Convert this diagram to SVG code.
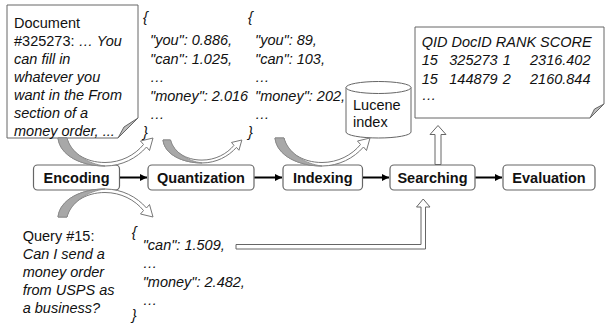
<svg xmlns="http://www.w3.org/2000/svg" xmlns:xlink="http://www.w3.org/1999/xlink" width="606" height="326" viewBox="0 0 606 326">
<style>
text{font-family:"Liberation Sans",Arial,sans-serif;font-size:14.5px;fill:#111}
.i{font-style:italic}
.b{font-weight:bold}
.node rect{fill:#fff;stroke:#666;stroke-width:1.2}
.paper{fill:#fff;stroke:#666;stroke-width:1}
.flap{fill:#bdbdbd;stroke:#666;stroke-width:1}
.conn{stroke:#000;stroke-width:2;fill:none}
.hollow{fill:#fff;stroke:#666;stroke-width:1}
.band{fill:#fff;stroke:#777;stroke-width:1}
.shade{fill:#a8a8a8;stroke:#888;stroke-width:0.8}
</style>
<defs>
<marker id="ah" markerWidth="8" markerHeight="8" refX="7" refY="4" orient="auto" markerUnits="userSpaceOnUse">
<path d="M0,0.5 L7,4 L0,7.5 Z" fill="#000"/>
</marker>
<g id="arc">
<path class="band" vector-effect="non-scaling-stroke" d="M0,0 C2,18 24,28 47,28 C64,28 79,20 88.5,9 L91.5,12.5 L95,0 L82.5,3 L85.5,6.5 C77,17 63,24.5 47,24.5 C27,24.5 12,14 9,0 Z"/>
<path class="shade" vector-effect="non-scaling-stroke" d="M0,0 C2,18 24,28 47,28 C30,26 13,15 9,0 Z"/>
</g>
</defs>

<g id="document">
<path class="paper" d="M7,5 H138 V118 L118,138 H7 Z"/>
<polygon class="flap" points="138,118 118,138 124,127"/>
<text x="14" y="28">Document</text>
<text x="14" y="46">#325273: <tspan class="i">… You</tspan></text>
<text x="14" y="64" class="i">can fill in</text>
<text x="14" y="82" class="i">whatever you</text>
<text x="14" y="100" class="i">want in the From</text>
<text x="14" y="118" class="i">section of a</text>
<text x="14" y="136" class="i">money order, ...</text>
</g>

<g id="json-encoded">
<text x="143" y="22" class="i">{</text>
<text x="150" y="45" class="i">"you": 0.886,</text>
<text x="150" y="63.5" class="i">"can": 1.025,</text>
<text x="150" y="82" class="i">…</text>
<text x="150" y="100.5" class="i">"money": 2.016</text>
<text x="150" y="119" class="i">…</text>
<text x="143" y="136.5" class="i">}</text>
</g>

<g id="json-quantized">
<text x="248" y="22" class="i">{</text>
<text x="255" y="45" class="i">"you": 89,</text>
<text x="255" y="63.5" class="i">"can": 103,</text>
<text x="255" y="82" class="i">…</text>
<text x="255" y="100.5" class="i">"money": 202,</text>
<text x="255" y="119" class="i">…</text>
<text x="248" y="136.5" class="i">}</text>
</g>

<g id="lucene-index">
<path class="paper" d="M346,87.5 V132 A32.5,6 0 0 0 411,132 V87.5"/>
<ellipse class="paper" cx="378.5" cy="87.5" rx="32.5" ry="6"/>
<text x="353" y="110">Lucene</text>
<text x="353" y="127">index</text>
</g>

<g id="results">
<path class="paper" d="M415,27 H604 V104 L590,118 H415 Z"/>
<polygon class="flap" points="604,104 590,118 594.5,109"/>
<text x="421.7" y="46.5" class="i">QID DocID RANK SCORE</text>
<text y="65" class="i"><tspan x="421.7">15</tspan><tspan x="449.3">325273</tspan><tspan x="502.7">1</tspan><tspan x="530">2316.402</tspan></text>
<text y="83.5" class="i"><tspan x="421.7">15</tspan><tspan x="449.3">144879</tspan><tspan x="502.7">2</tspan><tspan x="530">2160.844</tspan></text>
<text x="421.7" y="100" class="i">…</text>
</g>

<g id="query">
<text x="22.7" y="241">Query #15:</text>
<text x="22.7" y="259" class="i">Can I send a</text>
<text x="22.7" y="277" class="i">money order</text>
<text x="22.7" y="295" class="i">from USPS as</text>
<text x="22.7" y="313" class="i">a business?</text>
</g>

<g id="json-query">
<text x="131.7" y="237" class="i">{</text>
<text x="142.7" y="250" class="i">"can": 1.509,</text>
<text x="142.7" y="268" class="i">…</text>
<text x="142.7" y="286.5" class="i">"money": 2.482,</text>
<text x="142.7" y="304.5" class="i">…</text>
<text x="131.7" y="320" class="i">}</text>
</g>

<g id="encoding" class="node">
<rect x="33.5" y="165" width="86" height="25" rx="4"/>
<text x="76.5" y="183" text-anchor="middle" class="b">Encoding</text>
</g>
<g id="quantization" class="node">
<rect x="148" y="165" width="106" height="25" rx="4"/>
<text x="201" y="183" text-anchor="middle" class="b">Quantization</text>
</g>
<g id="indexing" class="node">
<rect x="283" y="165" width="79.5" height="25" rx="4"/>
<text x="322.7" y="183" text-anchor="middle" class="b">Indexing</text>
</g>
<g id="searching" class="node">
<rect x="390" y="165" width="85" height="25" rx="4"/>
<text x="432.5" y="183" text-anchor="middle" class="b">Searching</text>
</g>
<g id="evaluation" class="node">
<rect x="503" y="165" width="92" height="25" rx="4"/>
<text x="549" y="183" text-anchor="middle" class="b">Evaluation</text>
</g>

<g id="connectors">
<line class="conn" x1="120" y1="177.5" x2="147" y2="177.5" marker-end="url(#ah)"/>
<line class="conn" x1="254.5" y1="177.5" x2="282" y2="177.5" marker-end="url(#ah)"/>
<line class="conn" x1="363" y1="177.5" x2="389" y2="177.5" marker-end="url(#ah)"/>
<line class="conn" x1="475.5" y1="177.5" x2="502" y2="177.5" marker-end="url(#ah)"/>
<use xlink:href="#arc" transform="translate(58,138)"/>
<use xlink:href="#arc" transform="translate(163,140) scale(0.83,0.82)"/>
<use xlink:href="#arc" transform="translate(275,138)"/>
<use xlink:href="#arc" transform="translate(58,217) scale(1,-1)"/>
<path class="hollow" d="M435,164.5 V134.5 H430 L438,125.5 L446,134.5 H441 V164.5 Z"/>
<path class="hollow" d="M236,244.5 H421 V207 H416.5 L423.2,199 L430,207 H425.5 V249 H236 Z"/>
</g>
</svg>
